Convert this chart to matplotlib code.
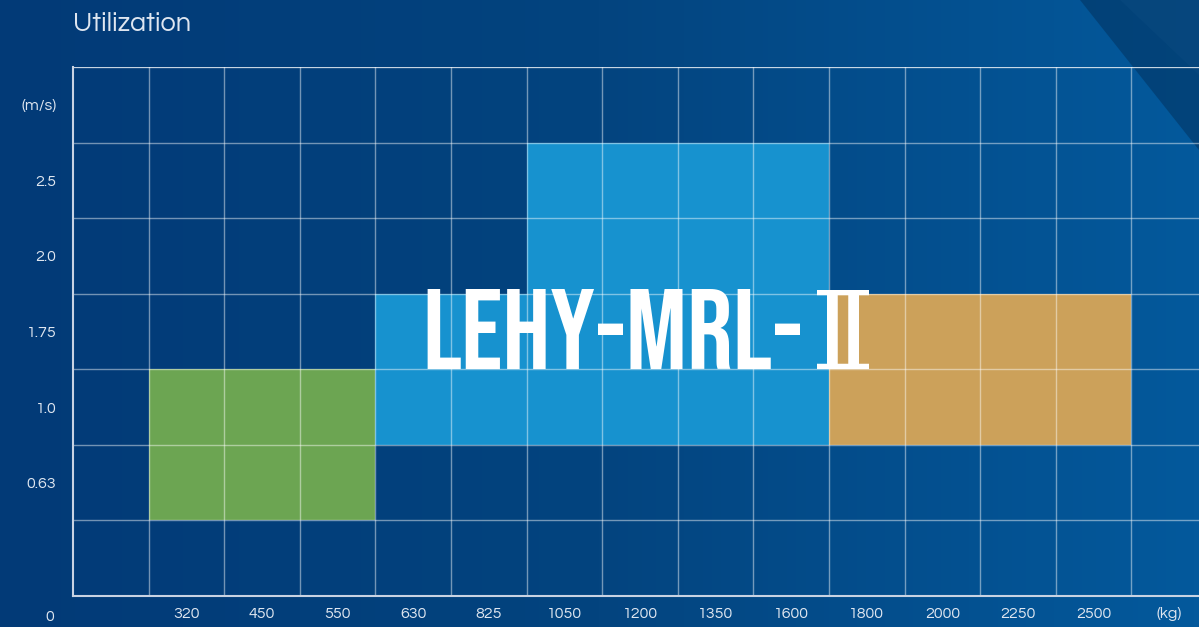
import numpy as np
import matplotlib
matplotlib.use("Agg")
import matplotlib.pyplot as plt
from matplotlib.colors import LinearSegmentedColormap
from matplotlib.patches import Polygon

# ── data ─────────────────────────────────────────────────────────────────────
loads  = ["320", "450", "550", "630", "825", "1050", "1200", "1350",
          "1600", "1800", "2000", "2250", "2500"]
speeds = ["0.63", "1.0", "1.75", "2.0", "2.5"]

# (load from, load to, speed from, speed to)
green_ranges  = [("320", "550", "0.63", "1.0")]
blue_ranges   = [("630", "1600", "1.0", "1.75"), ("1050", "1600", "2.0", "2.5")]
orange_ranges = [("1800", "2500", "1.0", "1.75")]

TITLE = "Utilization"
MODEL = "LEHY-MRL-"
MODEL_NUM = "Ⅱ"

TXT = "#dfe6f0"
FONT = ["Questrial", "Didact Gothic", "Lato", "DejaVu Sans"]
BIG_FONT = ["Bebas Neue", "DejaVu Sans"]
NUM_FONT = ["DejaVu Serif", "DejaVu Sans"]

W, H = 1199, 627
fig = plt.figure(figsize=(W / 100, H / 100), dpi=100)

# ── background gradient ──────────────────────────────────────────────────────
bg = fig.add_axes([0, 0, 1, 1], zorder=0)
bg.set_axis_off()
cmap = LinearSegmentedColormap.from_list("bg", ["#023a77", "#03447f", "#04599c"])
xx = np.linspace(0, 1, 256)
grad = np.tile(xx, (64, 1))
bg.imshow(grad, cmap=cmap, aspect="auto", extent=[0, 1, 0, 1])
bg.add_patch(Polygon([[1080 / W, 1], [1, 1], [1, 1 - 150 / H]], closed=True,
                     facecolor="#02325f", alpha=0.55, lw=0))
bg.add_patch(Polygon([[1120 / W, 1], [1, 1], [1, 1 - 75 / H]], closed=True,
                     facecolor="#0a4a80", alpha=0.5, lw=0))
bg.set_xlim(0, 1)
bg.set_ylim(0, 1)

# ── grid axes ────────────────────────────────────────────────────────────────
x0, x1, ytop, ybot = 73, W, 67, 596
ax = fig.add_axes([x0 / W, 1 - ybot / H, (x1 - x0) / W, (ybot - ytop) / H], zorder=1)
ax.patch.set_alpha(0)
ncol = len(loads) + 1
cellw = 75.6
ax.set_xlim(0, (x1 - x0) / cellw)
ax.set_ylim(0, len(speeds) + 2)


def draw(ranges, color):
    for l0, l1, s0, s1 in ranges:
        c0 = loads.index(l0) + 1
        c1 = loads.index(l1) + 2
        r0 = speeds.index(s0) + 1
        r1 = speeds.index(s1) + 2
        ax.bar(c0, r1 - r0, width=c1 - c0, bottom=r0, align="edge",
               color=color, lw=0, zorder=1)


draw(green_ranges, "#6ca552")
draw(blue_ranges, "#1792cf")
draw(orange_ranges, "#cca15a")

# grid
for c in range(1, ncol + 1):
    ax.axvline(c, color="white", alpha=0.45, lw=1, zorder=2)
for r in range(1, len(speeds) + 3):
    ax.axhline(r, color="white", alpha=0.45, lw=1, zorder=2)
ax.axhline(len(speeds) + 2, color="white", alpha=0.6, lw=1.5, zorder=2)

for s in ["top", "right"]:
    ax.spines[s].set_visible(False)
for s in ["left", "bottom"]:
    ax.spines[s].set_color("#c9d3e3")
    ax.spines[s].set_linewidth(1.5)

ax.set_xticks(np.arange(1, ncol + 1) + 0.5)
ax.set_xticklabels(loads + ["(kg)"])
ax.set_yticks(np.arange(1, len(speeds) + 2) + 0.5)
ax.set_yticklabels(speeds + ["(m/s)"])
ax.tick_params(length=0, colors=TXT, labelsize=11.5)
ax.tick_params(axis="x", pad=8)
ax.tick_params(axis="y", pad=12)
for t in ax.get_xticklabels() + ax.get_yticklabels():
    t.set_family(FONT)
ax.text(-23 / cellw, -0.28, "0", color=TXT, fontsize=11.5, family=FONT,
        ha="center", va="center")

# ── texts ────────────────────────────────────────────────────────────────────
fig.text(73 / W, 1 - 24 / H, TITLE, color=TXT, fontsize=19.5, family=FONT,
         ha="left", va="center")
ax.text(9.66, 3.0, MODEL, color="white", fontsize=82, family=BIG_FONT,
        ha="right", va="baseline", zorder=3)
ax.text(9.76, 3.0, MODEL_NUM, color="white", fontsize=78, family=NUM_FONT,
        ha="left", va="baseline", zorder=3)

fig.savefig("out.png", dpi=100)
